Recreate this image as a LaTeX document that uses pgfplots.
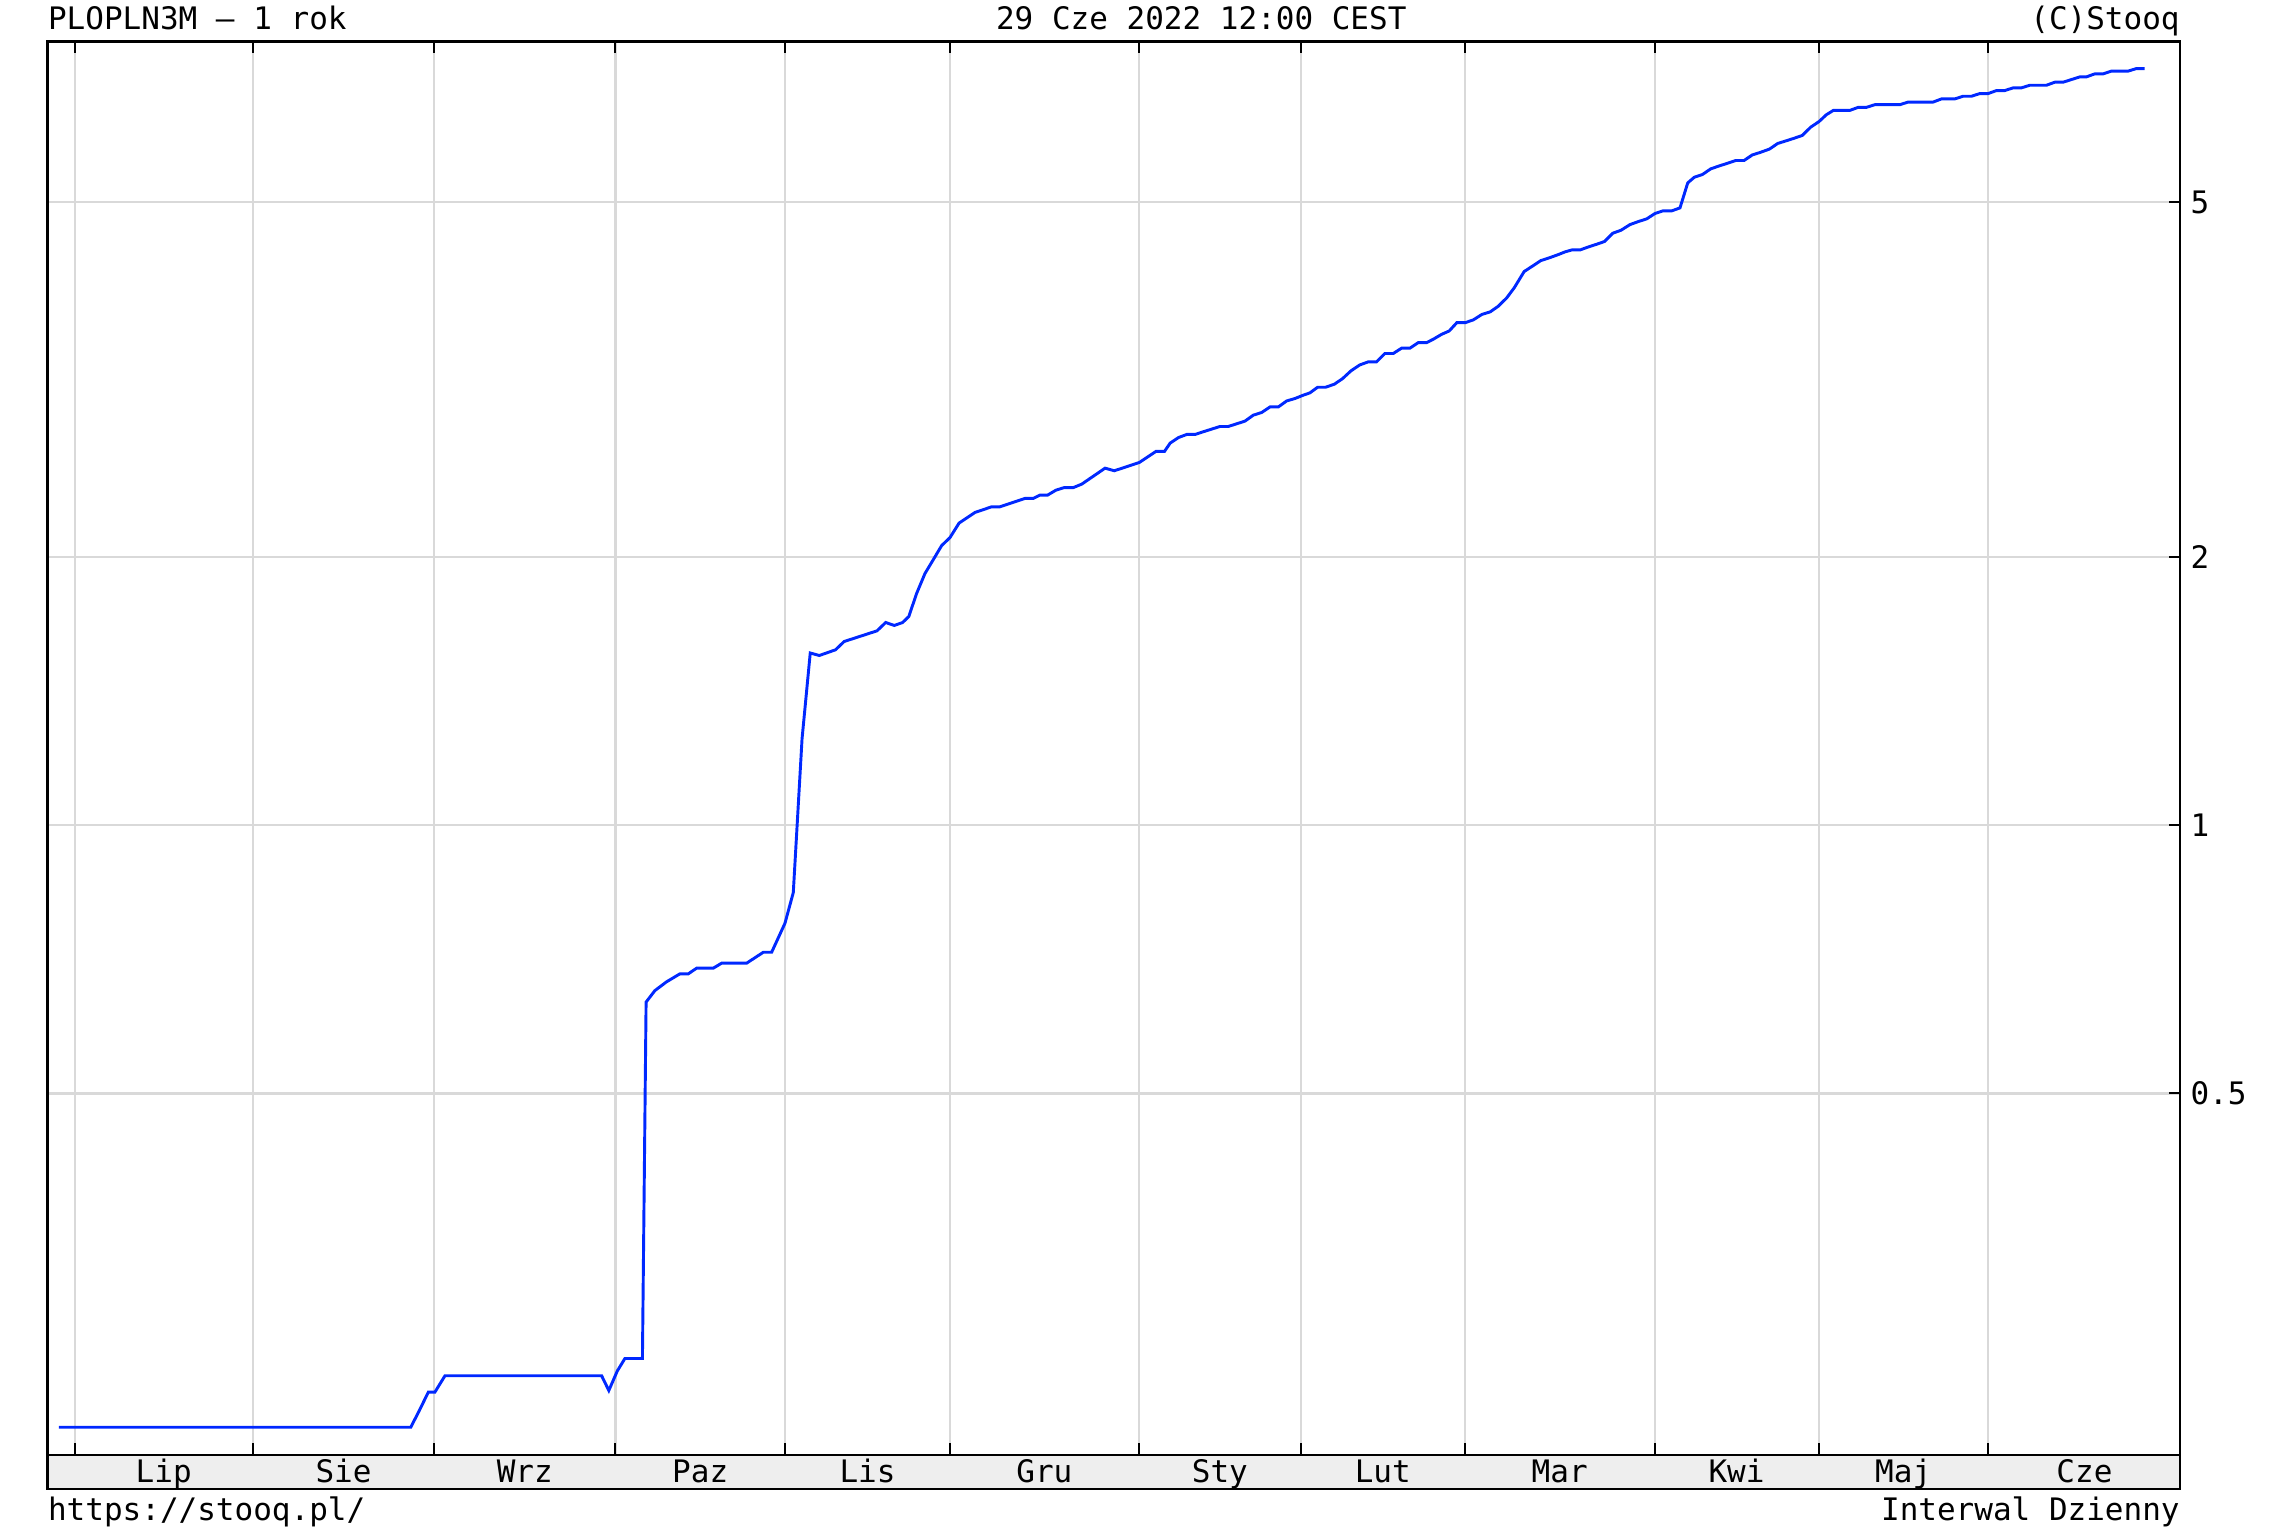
\documentclass[border=0pt]{standalone}
\usepackage{fontspec}
\setmainfont{DejaVu Sans Mono}
\usepackage{pgfplots}
\pgfplotsset{compat=1.18}
\definecolor{lineblue}{RGB}{0,40,255}
\definecolor{gridgrey}{RGB}{217,217,217}
\definecolor{bandgrey}{RGB}{238,238,238}
\newcommand{\chartfont}{\fontsize{10.6}{12.7}\selectfont}
\pgfplotstableread{
x y
40.2 0.211
281 0.211
286.7 0.220
293 0.231
297.5 0.231
304.4 0.241
411.6 0.241
416.5 0.232
422.3 0.244
427.5 0.252
439.5 0.252
442 0.633
448 0.652
456 0.667
465.2 0.681
470.9 0.681
476.6 0.691
488 0.691
493.7 0.700
510.8 0.700
522.2 0.720
527.9 0.720
537 0.776
542.7 0.840
548.7 1.25
554.3 1.56
560.5 1.55
571.6 1.573
577.5 1.607
600 1.652
605.9 1.688
611.8 1.675
617.5 1.688
621.7 1.714
627.1 1.82
632.8 1.916
638.5 1.986
644.2 2.059
649.9 2.102
656.1 2.182
667 2.243
678.4 2.276
684.1 2.276
701.2 2.326
706.9 2.326
711.5 2.346
716.7 2.346
722.4 2.376
728.1 2.392
734.3 2.392
740 2.413
756 2.515
762.3 2.498
779.4 2.552
790.9 2.627
796.7 2.627
800.5 2.683
806.2 2.722
811.9 2.744
817.6 2.744
823.2 2.763
834.6 2.801
840.3 2.801
851.7 2.840
857.4 2.884
863.1 2.904
868.8 2.946
874.5 2.946
880.2 2.992
885.9 3.011
891.6 3.037
896.1 3.055
901.4 3.100
906.8 3.100
912.8 3.124
918.5 3.170
924.2 3.234
930.3 3.284
936 3.310
941.7 3.310
947.4 3.382
953.1 3.382
958.8 3.429
964.5 3.429
970.2 3.479
975.9 3.479
980.5 3.509
986.2 3.554
991.4 3.585
996.7 3.664
1002.6 3.664
1008 3.69
1013.8 3.742
1019.5 3.767
1025 3.822
1030.8 3.906
1036 4.01
1042.7 4.18
1047.9 4.234
1054.1 4.300
1059.8 4.330
1065.5 4.364
1070.7 4.398
1075.3 4.420
1081 4.420
1086.7 4.455
1092.4 4.486
1097.6 4.517
1103.3 4.615
1109 4.651
1115.1 4.719
1120.8 4.756
1126.5 4.789
1132.2 4.856
1137.5 4.889
1143.6 4.889
1149.3 4.927
1154.6 5.256
1159.1 5.333
1164.6 5.370
1170.3 5.450
1176.2 5.492
1181.9 5.530
1187.4 5.569
1193.1 5.569
1198.8 5.650
1204.5 5.689
1210.5 5.736
1216.2 5.82
1222 5.86
1227.3 5.898
1233 5.942
1238.7 6.07
1244.5 6.16
1249.4 6.268
1254.2 6.339
1265.5 6.339
1271.2 6.389
1276.9 6.389
1282.6 6.433
1299.7 6.433
1305.4 6.477
1322.5 6.477
1328.2 6.53
1337.3 6.53
1343 6.575
1348.7 6.575
1354.4 6.621
1360.1 6.621
1365.8 6.672
1371.5 6.672
1377.2 6.719
1382.9 6.719
1388.6 6.765
1400 6.765
1405.7 6.818
1411.4 6.818
1417.1 6.865
1422.8 6.912
1427.3 6.912
1433 6.966
1438.7 6.966
1444.4 7.015
1455.8 7.015
1461.5 7.063
1467.2 7.063
}\ratedata
\begin{document}
\begin{tikzpicture}
\path (0,0) rectangle (784pt,523.5pt);
\fill[bandgrey] (16.25pt,14.1pt) rectangle (745.75pt,25.75pt);
\draw[line width=0.8pt] (16.25pt,25.75pt) -- (16.25pt,14.1pt) -- (745.75pt,14.1pt) -- (745.75pt,25.75pt);
\begin{axis}[
  at={(16.25pt,25.75pt)}, anchor=south west,
  scale only axis, width=729.5pt, height=483.6pt,
  xmin=32.5, xmax=1491.5,
  ymode=log, ymin=0.19634, ymax=7.5784,
  xtick={51.5,173,297,421,537,650,779,890,1002,1132,1244.6,1360},
  xticklabels={},
  extra x ticks={112,235,359,479,593.5,714.5,834.5,946,1067,1188,1302,1426},
  extra x tick labels={Lip,Sie,Wrz,Paz,Lis,Gru,Sty,Lut,Mar,Kwi,Maj,Cze},
  extra x tick style={grid=none, major tick length=0pt,
    xticklabel style={anchor=base, yshift=-9.4pt}},
  ytick={0.5,1,2,5},
  yticklabels={0.5,1,2,5},
  minor ytick={},
  xtick pos=both,
  ytick pos=right,
  yticklabel pos=right,
  tick align=inside,
  major tick length=4pt,
  tick style={black, line width=0.7pt},
  tick label style={font=\chartfont, text=black},
  yticklabel style={anchor=west},
  grid=major,
  major grid style={gridgrey, line width=0.8pt},
  axis line style={black, line width=0.8pt},
  clip=false,
]
\addplot[lineblue, line width=1pt, mark=none] table[x=x, y=y] {\ratedata};
\end{axis}
\node[anchor=base west, inner sep=0, font=\chartfont] at (16.25pt,513.5pt) {PLOPLN3M – 1 rok};
\node[anchor=base west, inner sep=0, font=\chartfont] at (340.5pt,513.5pt) {29 Cze 2022 12:00 CEST};
\node[anchor=base east, inner sep=0, font=\chartfont] at (745.75pt,513.5pt) {(C)Stooq};
\node[anchor=base west, inner sep=0, font=\chartfont] at (16.25pt,3.5pt) {https://stooq.pl/};
\node[anchor=base east, inner sep=0, font=\chartfont] at (745.75pt,3.5pt) {Interwal Dzienny};
\end{tikzpicture}
\end{document}
